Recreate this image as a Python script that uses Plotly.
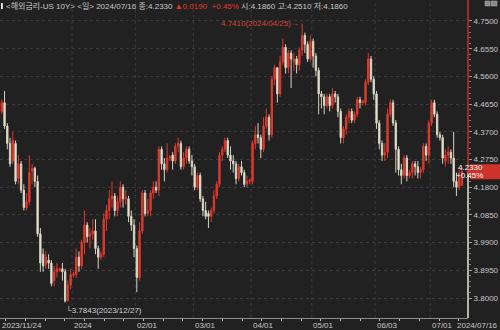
import plotly.graph_objects as go
import pandas as pd

# ---------------- data ----------------
dates = [d.strftime("%Y/%m/%d") for d in pd.bdate_range("2023-11-24", "2024-07-16")]

opens = [4.44, 4.47, 4.39, 4.33, 4.27, 4.33, 4.21, 4.26, 4.17, 4.11,
         4.13, 4.235, 4.245, 4.20, 4.02, 3.95, 3.915, 3.93, 3.92, 3.86,
         3.89, 3.895, 3.90, 3.89, 3.79, 3.845, 3.878, 3.88, 3.94, 3.91,
         3.99, 4.05, 4.01, 4.02, 4.03, 3.97, 3.94, 3.95, 4.07, 4.10,
         4.14, 4.15, 4.10, 4.13, 4.18, 4.14, 4.14, 4.08, 4.05, 3.97,
         3.87, 4.03, 4.16, 4.09, 4.10, 4.16, 4.18, 4.17, 4.31, 4.26,
         4.24, 4.28, 4.29, 4.27, 4.32, 4.33, 4.25, 4.28, 4.31, 4.27,
         4.25, 4.18, 4.22, 4.14, 4.10, 4.09, 4.08, 4.10, 4.15, 4.19,
         4.29, 4.31, 4.34, 4.29, 4.27, 4.26, 4.21, 4.25, 4.23, 4.19,
         4.20, 4.20, 4.33, 4.36, 4.35, 4.31, 4.39, 4.42, 4.36, 4.55,
         4.59, 4.50, 4.61, 4.66, 4.59, 4.64, 4.61, 4.62, 4.60, 4.65,
         4.70, 4.67, 4.62, 4.68, 4.63, 4.58, 4.50, 4.49, 4.46, 4.49,
         4.46, 4.50, 4.49, 4.44, 4.35, 4.38, 4.42, 4.44, 4.41, 4.43,
         4.48, 4.47, 4.47, 4.54, 4.62, 4.55, 4.50, 4.40, 4.33, 4.29,
         4.30, 4.43, 4.47, 4.40, 4.31, 4.24, 4.22, 4.28, 4.22, 4.23,
         4.26, 4.25, 4.23, 4.24, 4.32, 4.29, 4.40, 4.47, 4.43, 4.36,
         4.35, 4.27, 4.29, 4.30, 4.28, 4.20, 4.18, 4.186]
highs = [4.48, 4.51, 4.40, 4.35, 4.37, 4.34, 4.29, 4.27, 4.19, 4.16,
         4.29, 4.26, 4.25, 4.22, 4.04, 3.97, 3.96, 3.95, 3.93, 3.91,
         3.92, 3.905, 3.92, 3.90, 3.86, 3.90, 3.89, 3.97, 3.96, 4.00,
         4.10, 4.06, 4.04, 4.07, 4.07, 3.98, 3.96, 4.09, 4.12, 4.17,
         4.20, 4.16, 4.15, 4.20, 4.19, 4.17, 4.15, 4.10, 4.07, 3.98,
         4.06, 4.17, 4.17, 4.14, 4.17, 4.20, 4.20, 4.32, 4.32, 4.28,
         4.33, 4.29, 4.30, 4.33, 4.35, 4.34, 4.30, 4.32, 4.32, 4.29,
         4.26, 4.23, 4.23, 4.15, 4.13, 4.10, 4.11, 4.17, 4.20, 4.30,
         4.32, 4.35, 4.35, 4.32, 4.29, 4.27, 4.26, 4.27, 4.24, 4.22,
         4.21, 4.34, 4.39, 4.40, 4.36, 4.42, 4.45, 4.43, 4.56, 4.60,
         4.59, 4.63, 4.69, 4.67, 4.65, 4.65, 4.64, 4.63, 4.66, 4.741,
         4.71, 4.68, 4.70, 4.69, 4.64, 4.59, 4.51, 4.50, 4.50, 4.50,
         4.52, 4.51, 4.50, 4.45, 4.39, 4.43, 4.45, 4.45, 4.44, 4.49,
         4.49, 4.48, 4.55, 4.64, 4.63, 4.56, 4.51, 4.41, 4.34, 4.33,
         4.45, 4.48, 4.48, 4.41, 4.32, 4.26, 4.29, 4.29, 4.24, 4.27,
         4.27, 4.27, 4.25, 4.33, 4.33, 4.41, 4.48, 4.48, 4.44, 4.37,
         4.36, 4.31, 4.32, 4.31, 4.37, 4.23, 4.24, 4.251]
lows = [4.43, 4.38, 4.31, 4.25, 4.26, 4.19, 4.19, 4.16, 4.10, 4.10,
        4.12, 4.19, 4.18, 4.01, 3.89, 3.89, 3.90, 3.90, 3.84, 3.84,
        3.87, 3.89, 3.86, 3.7843, 3.79, 3.83, 3.87, 3.87, 3.89, 3.90,
        3.95, 3.99, 3.97, 4.00, 3.95, 3.90, 3.93, 3.94, 4.03, 4.07,
        4.11, 4.08, 4.08, 4.11, 4.11, 4.12, 4.06, 4.03, 3.94, 3.82,
        3.86, 4.02, 4.08, 4.08, 4.08, 4.14, 4.16, 4.15, 4.24, 4.20,
        4.23, 4.27, 4.24, 4.26, 4.30, 4.24, 4.24, 4.26, 4.26, 4.22,
        4.17, 4.17, 4.13, 4.08, 4.07, 4.04, 4.06, 4.09, 4.14, 4.18,
        4.27, 4.30, 4.28, 4.24, 4.23, 4.19, 4.20, 4.22, 4.18, 4.18,
        4.19, 4.19, 4.31, 4.33, 4.28, 4.30, 4.38, 4.34, 4.35, 4.53,
        4.47, 4.49, 4.60, 4.57, 4.57, 4.52, 4.58, 4.57, 4.58, 4.63,
        4.64, 4.61, 4.61, 4.59, 4.56, 4.43, 4.45, 4.43, 4.45, 4.44,
        4.45, 4.47, 4.42, 4.33, 4.33, 4.36, 4.40, 4.40, 4.40, 4.42,
        4.45, 4.46, 4.46, 4.53, 4.54, 4.48, 4.38, 4.31, 4.27, 4.27,
        4.28, 4.42, 4.39, 4.23, 4.22, 4.19, 4.21, 4.20, 4.21, 4.21,
        4.22, 4.21, 4.21, 4.23, 4.27, 4.26, 4.39, 4.42, 4.35, 4.34,
        4.26, 4.25, 4.26, 4.26, 4.18, 4.15, 4.17, 4.186]
closes = [4.47, 4.39, 4.33, 4.26, 4.34, 4.20, 4.26, 4.17, 4.11, 4.13,
          4.23, 4.245, 4.20, 4.02, 3.92, 3.91, 3.94, 3.92, 3.85, 3.89,
          3.90, 3.90, 3.89, 3.79, 3.845, 3.88, 3.882, 3.94, 3.91, 3.99,
          4.05, 4.01, 4.02, 4.03, 3.97, 3.94, 3.95, 4.07, 4.10, 4.14,
          4.15, 4.10, 4.13, 4.18, 4.14, 4.145, 4.08, 4.05, 3.97, 3.87,
          4.03, 4.16, 4.09, 4.10, 4.16, 4.18, 4.17, 4.31, 4.26, 4.24,
          4.28, 4.285, 4.27, 4.32, 4.33, 4.25, 4.28, 4.31, 4.27, 4.25,
          4.18, 4.22, 4.14, 4.10, 4.08, 4.08, 4.10, 4.15, 4.19, 4.29,
          4.31, 4.34, 4.29, 4.27, 4.26, 4.21, 4.25, 4.23, 4.19, 4.20,
          4.205, 4.33, 4.36, 4.35, 4.31, 4.39, 4.42, 4.36, 4.55, 4.59,
          4.50, 4.61, 4.66, 4.59, 4.64, 4.62, 4.62, 4.60, 4.65, 4.70,
          4.67, 4.62, 4.68, 4.63, 4.58, 4.50, 4.49, 4.46, 4.49, 4.46,
          4.50, 4.49, 4.44, 4.35, 4.38, 4.42, 4.44, 4.41, 4.43, 4.48,
          4.47, 4.475, 4.54, 4.62, 4.55, 4.50, 4.40, 4.33, 4.29, 4.30,
          4.43, 4.47, 4.40, 4.31, 4.24, 4.22, 4.28, 4.22, 4.23, 4.26,
          4.25, 4.23, 4.24, 4.32, 4.29, 4.40, 4.47, 4.43, 4.36, 4.35,
          4.28, 4.29, 4.30, 4.28, 4.20, 4.18, 4.214, 4.233]

month_labels = ["2023/11/24", "2024", "02/01", "03/01", "04/01", "05/01", "06/03", "07/01"]
month_dates = ["2023/11/24", "2024/01/01", "2024/02/01", "2024/03/01",
               "2024/04/01", "2024/05/01", "2024/06/03", "2024/07/01"]
y_ticks = [3.8000, 3.8950, 3.9900, 4.0850, 4.1800, 4.2750, 4.3700, 4.4650, 4.5600, 4.6550, 4.7500]

last_price = 4.2330
change = 0.0190
change_pct = 0.45
day_open, day_high, day_low = 4.1860, 4.2510, 4.1860
hi_val, hi_date = 4.7410, "2024/04/25"
lo_val, lo_date = 3.7843, "2023/12/27"

# ---------------- styling ----------------
BG = "#212121"
GRID = "#3b3b3b"
TXT = "#c8c8c8"
RED = "#e0392e"
CREAM = "#f3efdb"
FONT = "Liberation Sans Narrow, Arial Narrow, Liberation Sans, Noto Sans CJK KR, sans-serif"

PLOT_W, PLOT_H = 468, 318
YMIN, YMAX = 3.7314, 4.822
px_per_val = PLOT_H / (YMAX - YMIN)

x = list(range(len(dates)))
idx = {d: i for i, d in enumerate(dates)}

fig = go.Figure()
fig.add_trace(go.Candlestick(
    x=x, open=opens, high=highs, low=lows, close=closes,
    hovertext=dates,
    increasing=dict(line=dict(color=RED, width=1), fillcolor=RED),
    decreasing=dict(line=dict(color="#d6d2c0", width=1), fillcolor=CREAM),
    whiskerwidth=0,
))

shapes = []
annotations = []

# vertical dotted month grid lines
for d in month_dates[1:]:
    i = idx[d]
    shapes.append(dict(type="line", xref="x", yref="paper", x0=i - 0.5, x1=i - 0.5,
                       y0=0, y1=1, line=dict(color=GRID, width=1, dash="dot"), layer="below"))

# x labels (left aligned at their tick)
for lab, d in zip(month_labels, month_dates):
    i = idx[d]
    annotations.append(dict(xref="x", yref="paper", x=(i - 0.6) if i else -0.6, y=0,
                            xanchor="left", yanchor="top", yshift=-1, showarrow=False,
                            text=lab, font=dict(size=8, color=TXT, family=FONT)))
annotations.append(dict(xref="paper", yref="paper", x=500 / PLOT_W, y=0, xanchor="right",
                        yanchor="top", yshift=-1, showarrow=False, text=dates[-1],
                        font=dict(size=8, color=TXT, family=FONT)))

# right axis line: red above last price, cream below
shapes.append(dict(type="line", xref="paper", yref="y", x0=1, x1=1, y0=last_price, y1=YMAX,
                   line=dict(color="#c4302a", width=1.5)))
shapes.append(dict(type="line", xref="paper", yref="y", x0=1, x1=1, y0=YMIN, y1=last_price,
                   line=dict(color="#e6e2d0", width=1.5)))

# current price box
half = 7.5 / px_per_val
shapes.append(dict(type="rect", xref="paper", yref="y", x0=1 + 2 / PLOT_W, x1=1 + 32 / PLOT_W,
                   y0=last_price - half, y1=last_price + half, fillcolor="#cf322a", line=dict(width=0)))
ax0 = 1 - 2 / PLOT_W
ax1 = 1 + 2.5 / PLOT_W
ah = 4 / px_per_val
shapes.append(dict(type="path", xref="paper", yref="y",
                   path=f"M {ax0},{last_price} L {ax1},{last_price + ah} L {ax1},{last_price - ah} Z",
                   fillcolor="#cf322a", line=dict(width=0)))
annotations.append(dict(xref="paper", yref="y", x=1 + 17 / PLOT_W, y=last_price, yshift=4,
                        showarrow=False, text=f"{last_price:.4f}",
                        font=dict(size=8, color="#ffffff", family=FONT)))
annotations.append(dict(xref="paper", yref="y", x=1 + 17 / PLOT_W, y=last_price, yshift=-4,
                        showarrow=False, text=f"+{change_pct:.2f}%",
                        font=dict(size=8, color="#ffffff", family=FONT)))

# high / low markers
annotations.append(dict(xref="x", yref="y", x=idx[hi_date] - 0.4, y=hi_val, xanchor="right",
                        yanchor="middle", showarrow=False, text=f"{hi_val:.4f}({hi_date})→",
                        font=dict(size=8, color="#d8453a", family=FONT)))
annotations.append(dict(xref="x", yref="y", x=idx[lo_date] - 0.5, y=lo_val, xanchor="left",
                        yanchor="top", showarrow=False, text=f"└{lo_val:.4f}({lo_date})",
                        font=dict(size=8, color="#d0d0d0", family=FONT)))

# title line
title = (f"&lt;해외금리-US 10Y&gt; &lt;일&gt; {dates[-1]} 종:{last_price:.4f} "
         f"<span style='color:#e0392e'>▲{change:.4f}  +{change_pct:.2f}%</span> "
         f"시:{day_open:.4f} 고:{day_high:.4f} 저:{day_low:.4f}")
annotations.append(dict(xref="paper", yref="paper", x=4 / PLOT_W, y=1 - 6 / PLOT_H, xanchor="left",
                        yanchor="middle", showarrow=False, text=title,
                        font=dict(size=8, color=TXT, family=FONT)))
shapes.append(dict(type="rect", xref="paper", yref="paper", x0=1 / PLOT_W, x1=2.8 / PLOT_W,
                   y0=1 - 9 / PLOT_H, y1=1 - 3 / PLOT_H, fillcolor="#f0f0f0", line=dict(width=0)))
# small window icons top-right
for a, b in [(485, 490), (491, 497)]:
    shapes.append(dict(type="rect", xref="paper", yref="paper", x0=a / PLOT_W, x1=b / PLOT_W,
                       y0=1 - 6 / PLOT_H, y1=1 - 1 / PLOT_H, fillcolor="#8a8a8a",
                       line=dict(color="#b0b0b0", width=0.5)))

fig.update_layout(
    width=500, height=330,
    margin=dict(l=0, r=32, t=0, b=12),
    paper_bgcolor=BG, plot_bgcolor=BG,
    showlegend=False,
    shapes=shapes, annotations=annotations,
    xaxis=dict(range=[-0.65, 169.2], showgrid=False, zeroline=False, showticklabels=False,
               rangeslider=dict(visible=False), showline=True, linecolor="#8c8c8c", linewidth=1,
               ticks="outside", ticklen=2, tickcolor="#bdbdbd", tick0=15.7, dtick=7.15, tickmode="linear"),
    yaxis=dict(range=[YMIN, YMAX], side="right", tickmode="array", tickvals=y_ticks,
               ticktext=[f"{v:.4f}" for v in y_ticks], showgrid=True, gridcolor=GRID, griddash="dot",
               zeroline=False, showline=False, ticks="outside", ticklen=3, tickcolor="#9a9a9a",
               tickfont=dict(size=8, color=TXT, family=FONT),
               minor=dict(tickmode="array", tickvals=[v + k * 0.019 for v in y_ticks[:-1] for k in range(1, 5)],
                          ticks="outside", ticklen=2, tickcolor="#7a7a7a", showgrid=False)),
    font=dict(family=FONT, color=TXT, size=8),
)

fig.write_html("out.html")
